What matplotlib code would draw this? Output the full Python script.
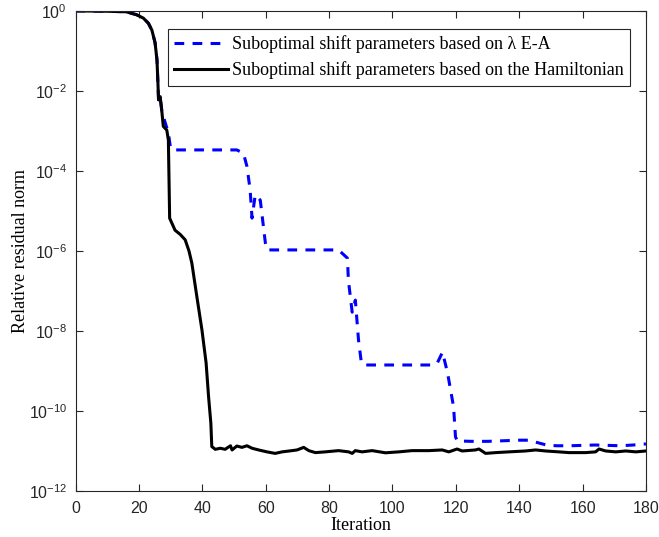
import matplotlib
matplotlib.use("Agg")
import matplotlib.pyplot as plt
from matplotlib.ticker import LogLocator, LogFormatterSciNotation, NullLocator

plt.rcParams['mathtext.fontset'] = 'custom'
plt.rcParams['mathtext.rm'] = 'Liberation Sans'
plt.rcParams['mathtext.it'] = 'Liberation Sans'
plt.rcParams['lines.scale_dashes'] = False

# shared start of both runs
start_it = [0, 10, 16, 19.3, 21.4, 23, 24.1, 25.1, 25.7, 26, 26.2, 26.7, 27.2]
start_res = [1.0, 0.98, 0.95, 0.8, 0.66, 0.49, 0.33, 0.16, 0.06, 0.016, 6.0e-3, 7.2e-3, 3.3e-3]

# shifts from the Hamiltonian (black)
ham_it = [27.7, 28.8, 29.3, 29.7, 31.4, 33.0, 34.6, 35.8, 36.7, 38.3, 39.9, 41.2, 42,
          42.7, 43,
          44.1, 45.7, 47.2, 48.9, 49.4, 50.9, 52.5, 54.1, 55.7, 57.8, 60.4, 63.0,
          65.2, 68.3, 69.9, 72.0, 73.6, 75.7, 78.8, 83.0, 86.2, 87.3, 88.3, 90.4,
          93.6, 97.8, 102.0, 106.2, 111.5, 115.7, 117.8, 120.4, 122.0, 126.2, 127.3,
          129.4, 132.6, 136.7, 142.0, 145.2, 148.3, 152.5, 155.7, 161.0, 164.1,
          165.2, 167.3, 170.5, 173.6, 176.8, 180.0]
ham_res = [1.3e-3, 1.05e-3, 5.9e-4, 6.6e-6, 3.3e-6, 2.6e-6, 1.9e-6, 1.0e-6, 5.0e-7,
           7.1e-8, 1.05e-8, 1.6e-9, 2.2e-10, 5.0e-11, 1.29e-11,
           1.10e-11, 1.17e-11, 1.10e-11, 1.35e-11, 1.06e-11, 1.33e-11, 1.23e-11,
           1.35e-11, 1.17e-11, 1.06e-11, 9.5e-12, 8.7e-12,
           9.5e-12, 1.02e-11, 1.06e-11, 1.23e-11, 1.02e-11, 9.1e-12, 9.5e-12,
           1.02e-11, 9.5e-12, 8.7e-12, 1.02e-11, 9.5e-12,
           1.02e-11, 9.0e-12, 9.5e-12, 1.02e-11, 1.02e-11, 1.06e-11, 9.5e-12,
           1.12e-11, 1.0e-11, 1.06e-11, 1.12e-11,
           8.7e-12, 9.1e-12, 9.5e-12, 1.0e-11, 1.06e-11, 1.0e-11, 9.5e-12, 9.1e-12,
           9.1e-12, 9.5e-12,
           1.12e-11, 1.0e-11, 9.5e-12, 1.0e-11, 9.5e-12, 1.0e-11]

# shifts from lambda E - A (blue)
pen_it = [27.7, 29.3, 29.9, 30.5, 50.9, 53.0, 54.1, 55.1, 55.7, 56.7, 58.3, 59.9,
          60.5, 83.0, 85.8, 86.1, 87.3, 88.3, 89.3, 90.2, 91.0, 113.0, 114.2,
          115.8, 117.4, 119.3, 119.9, 120.5, 125, 130, 135, 140, 143, 146, 149,
          152, 156, 160, 164, 168, 172, 176, 180]
pen_res = [2.3e-3, 8.9e-4, 4.1e-4, 3.35e-4, 3.35e-4, 2.75e-4, 1.29e-4, 3.35e-5,
           6.6e-6, 2.5e-5, 1.86e-5, 1.6e-6,
           1.06e-6, 1.06e-6, 6.6e-7, 1.86e-7, 2.95e-8, 5.9e-8, 5.9e-9, 1.6e-9,
           1.41e-9, 1.41e-9, 1.6e-9,
           2.95e-9, 8.9e-10, 1.26e-10, 2.24e-11, 1.78e-11, 1.74e-11, 1.74e-11,
           1.8e-11, 1.86e-11, 1.86e-11, 1.6e-11, 1.38e-11,
           1.35e-11, 1.35e-11, 1.38e-11, 1.41e-11, 1.38e-11, 1.35e-11, 1.41e-11,
           1.5e-11]

labels = ['Suboptimal shift parameters based on \u03bb E-A',
          'Suboptimal shift parameters based on the Hamiltonian']

fig = plt.figure(figsize=(6.59, 5.37), dpi=100)
ax = fig.add_axes([0.1146, 0.0857, 0.8656, 0.894])

ax.semilogy(start_it + pen_it, start_res + pen_res, color='#0000ff', lw=2.2,
            linestyle=(0, (7, 6)), label=labels[0])
ax.semilogy(start_it + ham_it, start_res + ham_res, color='black', lw=2.2,
            label=labels[1])

ax.set_xlim(0, 180)
ax.set_ylim(1e-12, 1)
ax.set_xticks(range(0, 181, 20))
ax.yaxis.set_major_locator(LogLocator(base=100))
ax.yaxis.set_major_formatter(LogFormatterSciNotation(base=10))
ax.yaxis.set_minor_locator(NullLocator())

ax.tick_params(direction='in', top=True, right=True, length=5, width=0.8,
               colors='#262626', labelsize=11.5)
ax.tick_params(axis='x', pad=7)
ax.tick_params(axis='y', pad=6)
for lab in ax.get_xticklabels() + ax.get_yticklabels():
    lab.set_fontfamily('Liberation Sans')
for s in ax.spines.values():
    s.set_color('#262626')
    s.set_linewidth(0.8)

ax.set_xlabel('Iteration', family='Liberation Serif', fontsize=13, labelpad=1)
ax.set_ylabel('Relative residual norm', family='Liberation Serif', fontsize=13,
              labelpad=0)

leg = ax.legend(loc='upper right', bbox_to_anchor=(0.972, 0.962),
                prop={'family': 'Liberation Serif', 'size': 13},
                handlelength=3.0, handletextpad=0.2, borderpad=0.35,
                labelspacing=0.45, borderaxespad=0, fancybox=False, framealpha=1)
leg.get_frame().set_edgecolor('#262626')
leg.get_frame().set_linewidth(0.8)

fig.savefig('out.png', dpi=100)
